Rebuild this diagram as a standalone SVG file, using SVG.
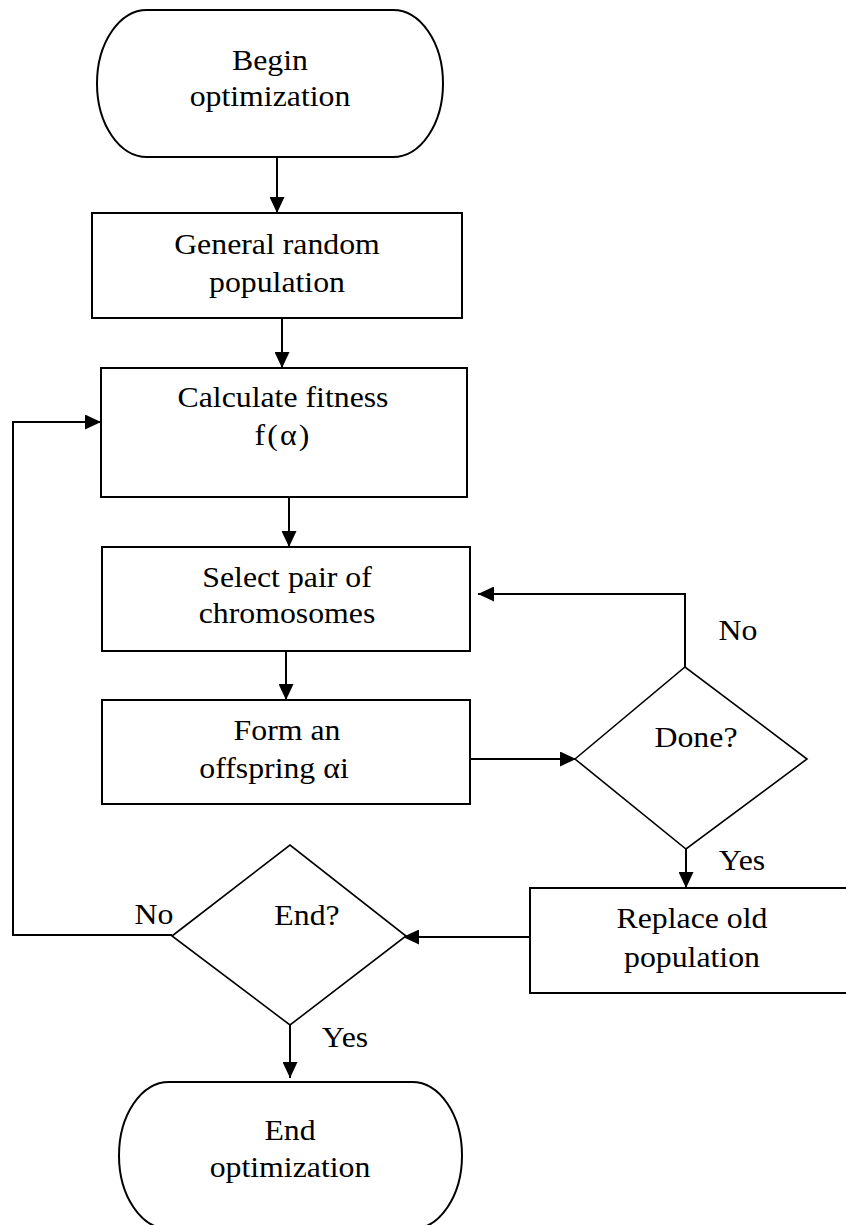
<svg xmlns="http://www.w3.org/2000/svg" width="846" height="1225" viewBox="0 0 846 1225">
<style>
.box{fill:#fff;stroke:#000;stroke-width:2}
.dia{fill:#fff;stroke:#000;stroke-width:1.6}
.ln{fill:none;stroke:#000;stroke-width:2}
text{font-family:"Liberation Serif","Times New Roman",serif;font-size:30px;fill:#000}
.c{text-anchor:middle}
</style>
<defs>
<marker id="ah" markerUnits="userSpaceOnUse" markerWidth="16" markerHeight="15" refX="16" refY="7.5" orient="auto">
<path d="M0,0 L16,7.5 L0,15 Z" fill="#000"/>
</marker>
</defs>
<rect width="846" height="1225" fill="#fff"/>
<g id="connectors">
<line class="ln" x1="277" y1="157" x2="277" y2="213" marker-end="url(#ah)"/>
<line class="ln" x1="282" y1="318" x2="282" y2="368" marker-end="url(#ah)"/>
<line class="ln" x1="289" y1="497" x2="289" y2="547" marker-end="url(#ah)"/>
<line class="ln" x1="286" y1="651" x2="286" y2="700" marker-end="url(#ah)"/>
<line class="ln" x1="470" y1="759" x2="576" y2="759" marker-end="url(#ah)"/>
<polyline class="ln" points="685,667 685,594 478,594" marker-end="url(#ah)"/>
<line class="ln" x1="686" y1="849" x2="686" y2="888" marker-end="url(#ah)"/>
<line class="ln" x1="530" y1="937" x2="403" y2="937" marker-end="url(#ah)"/>
<polyline class="ln" points="172,935 13,935 13,422 101,422" marker-end="url(#ah)"/>
<line class="ln" x1="290" y1="1025" x2="290" y2="1078" marker-end="url(#ah)"/>
</g>
<g id="begin">
<rect class="box" x="97" y="10" width="346" height="147" rx="50" ry="73.5"/>
<text transform="matrix(1.06 0 0 1 270 70)" class="c">Begin<tspan x="0" dy="36">optimization</tspan></text>
</g>
<g id="general">
<rect class="box" x="92" y="213" width="370" height="105"/>
<text transform="matrix(1.06 0 0 1 277 254)" class="c">General random<tspan x="0" dy="38">population</tspan></text>
</g>
<g id="calc">
<rect class="box" x="101" y="368" width="366" height="129"/>
<text transform="matrix(1.06 0 0 1 283 407)" class="c">Calculate fitness<tspan x="0" dy="38" letter-spacing="2">f(α)</tspan></text>
</g>
<g id="select">
<rect class="box" x="102" y="547" width="368" height="104"/>
<text transform="matrix(1.06 0 0 1 287 587)" class="c">Select pair of<tspan x="0" dy="36">chromosomes</tspan></text>
</g>
<g id="form">
<rect class="box" x="102" y="700" width="368" height="104"/>
<text transform="matrix(1.06 0 0 1 287 740)" class="c">Form an</text>
<text transform="matrix(1.06 0 0 1 274 778)" class="c">offspring αi</text>
</g>
<g id="done">
<polygon class="dia" points="575,759 685,667 807,759 686,849"/>
<text transform="matrix(1.06 0 0 1 696 747)" class="c">Done?</text>
</g>
<g id="replace">
<rect class="box" x="530" y="888" width="320" height="105"/>
<text transform="matrix(1.06 0 0 1 692 928)" class="c">Replace old<tspan x="0" dy="39">population</tspan></text>
</g>
<g id="endq">
<polygon class="dia" points="172,936 290,845 406,936 290,1025"/>
<text transform="matrix(1.06 0 0 1 307 925)" class="c">End?</text>
</g>
<g id="end">
<rect class="box" x="119" y="1082" width="343" height="147" rx="50" ry="73.5"/>
<text transform="matrix(1.06 0 0 1 290 1140)" class="c">End<tspan x="0" dy="37">optimization</tspan></text>
</g>
<g id="labels">
<text transform="matrix(1.06 0 0 1 738 640)" class="c">No</text>
<text transform="matrix(1.06 0 0 1 742 870)" class="c">Yes</text>
<text transform="matrix(1.06 0 0 1 154 924)" class="c">No</text>
<text transform="matrix(1.06 0 0 1 345 1047)" class="c">Yes</text>
</g>
</svg>
